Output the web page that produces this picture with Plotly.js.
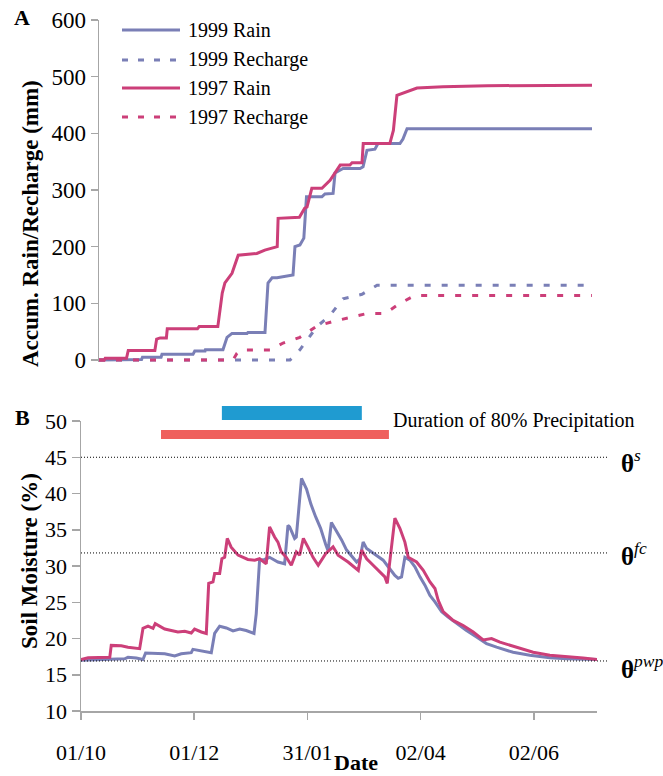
<!DOCTYPE html>
<html>
<head>
<meta charset="utf-8">
<script src="https://cdn.plot.ly/plotly-3.0.1.min.js"></script>
<style>html,body{margin:0;padding:0;background:#fff;}</style>
</head>
<body>
<div id="chart" style="width:663px;height:776px;"></div>
<script>
// ---------- Panel A: accumulated rain / recharge (x = days since 1 Oct) ----------
const rain1997Day = [0,3,3.5,15.5,16.5,31.5,32.5,34.5,38,38.5,55.5,56.5,67,69.5,71,75,78.5,89,93.5,100.5,101,113,116,117.3,120,125.7,130.3,134,136,141.5,142.7,148.3,149,164,166,168,171.4,175.4,179.3,194,218.8,278];
const rain1997Val = [0,0,3,3,17,17,37,39,39,55,55,59,59,118,136,153,185,188,194,200,250,252,268,270,303,303,317,335,344,344,348,348,382,382,405,467,471,475,480,482,484,485];
const rain1999Day = [0,16,16.5,24,24.5,35,35.5,53,54,59.8,60,69.9,72.2,75,83.5,84,93.6,95.3,97.6,100.4,109.4,110.5,113.3,115.5,117,125.7,127.4,132,133.1,137.6,147.2,148.9,151.1,155.6,157.3,169.7,171.4,173.7,278];
const rain1999Val = [0,0,1,1,5,5,10,10,16,16,18,18,40,47,47,48.5,48.5,136,145,145,150,200,203,215,288,288,293,294,330,338,338,341,370,372,382,382,390,408,408];
const recharge1999Day = [0,107.7,113.3,122.9,130.3,137.6,148.3,156.8,278];
const recharge1999Val = [0,0,18,59,79,108,116,132,132];
const recharge1997Day = [0,75.6,77.8,80,96.4,103.8,113.3,122.9,132,141.5,151.1,161.3,169.7,178.2,278];
const recharge1997Val = [0,0,12,17.6,17.6,30,40,60,68,75,82,82,100,114,114];
const legendLabels = ["1999 Rain","1999 Recharge","1997 Rain","1997 Recharge"];

// ---------- Panel B: soil moisture (x = days since 1 Oct) ----------
const sm1997Day = [0,3.8,15.5,16.3,21.7,25.3,31.6,33.4,36.1,38.8,40.0,45.1,52.2,55.9,59.4,61.2,64.8,67.5,68.8,71.1,72.0,74.7,75.9,77.4,78.8,80.9,84.6,89.9,93.6,96.2,99.8,101.6,104.3,106.1,107.9,110.6,113.3,116.0,117.8,119.8,122.3,125.0,127.8,131.8,135.8,138.5,143.9,146.7,149.4,151.2,153.9,157.4,161.0,163.7,165.0,166.8,169.1,171.8,174.5,176.3,179.0,180.8,184.4,188.0,190.7,192.4,195.1,200.5,205.9,211.3,216.7,221.2,225.7,234.7,243.6,252.6,261.6,270.5,278];
const sm1997Val = [17.1,17.35,17.4,19.05,19.0,18.8,18.6,21.4,21.7,21.4,22.05,21.3,20.9,21.0,20.75,21.3,20.9,20.7,27.6,27.8,28.95,28.95,31.0,31.2,33.8,32.6,31.5,30.9,30.8,31.0,30.3,35.4,34.0,33.3,31.95,31.2,30.1,31.95,31.5,33.8,32.6,31.2,30.1,31.7,32.65,31.5,30.55,29.9,29.4,32.2,31.0,30.1,29.2,28.5,27.6,31.2,36.6,35.2,33.3,31.2,30.8,30.55,29.4,27.8,26.9,25.3,23.7,22.5,21.8,20.9,19.8,20.0,19.5,18.8,18.1,17.7,17.45,17.3,17.1];
const sm1999Day = [0,9.2,23.5,25.3,29.8,33.4,34.8,45.1,50.5,54.0,59.4,60.3,63.9,70.2,72.0,74.7,78.3,81.9,85.5,89.0,93.2,94.4,96.2,98.9,101.6,106.1,109.7,111.5,112.4,115.1,116.0,118.8,121.5,123.9,126.4,129.1,131.8,133.1,134.9,137.3,140.4,143.1,146.7,148.5,150.3,152.0,153.9,156.6,159.3,162.8,165.5,169.1,170.9,172.7,174.5,177.2,179.9,182.6,185.3,188.0,190.7,194.3,197.8,202.4,207.7,213.1,218.5,223.9,232.8,241.8,252.6,261.6,278];
const sm1999Val = [17.0,17.1,17.2,17.4,17.3,17.1,18.0,17.9,17.6,17.9,18.05,18.5,18.3,18.05,20.7,21.7,21.45,21.05,21.3,21.1,20.7,23.4,30.8,30.9,31.2,30.55,30.3,35.6,35.4,33.8,34.0,42.1,40.6,38.5,36.8,35.2,33.0,32.1,36.0,35.0,33.6,32.2,31.2,30.55,31.0,33.3,32.4,31.95,31.5,30.8,29.9,28.7,28.3,28.5,31.2,30.8,29.9,28.5,27.35,25.95,25.05,23.7,22.95,22.05,21.1,20.2,19.3,18.8,18.1,17.7,17.35,17.2,17.1];
const dateTickDays = [0,61,122,183,244];
const dateTickLabels = ["01/10","01/12","31/01","02/04","02/06"];
const duration1999 = [75.9,151.3];   // 80% precipitation window (days)
const duration1997 = [43.1,165.9];
const refLevels = [45,31.8,16.9];
const refLabels = ["<b>θ</b><sup><i>s</i></sup>","<b>θ</b><sup><i>fc</i></sup>","<b>θ</b><sup><i>pwp</i></sup>"];

const BLUE = "#7a7fb6", RED = "#cc3f79", AX = "#a6a6a6";
const W = 663, H = 776;
const px = v => v / W, py = v => 1 - v / H;
const FONT = "'Liberation Serif', 'Times New Roman', serif";

const traces = [
  {x: rain1999Day, y: rain1999Val, xaxis:"x", yaxis:"y", mode:"lines", line:{color:BLUE,width:3}, name:legendLabels[0]},
  {x: recharge1999Day, y: recharge1999Val, xaxis:"x", yaxis:"y", mode:"lines", line:{color:BLUE,width:3,dash:"6px,11px"}, name:legendLabels[1]},
  {x: rain1997Day, y: rain1997Val, xaxis:"x", yaxis:"y", mode:"lines", line:{color:RED,width:3}, name:legendLabels[2]},
  {x: recharge1997Day, y: recharge1997Val, xaxis:"x", yaxis:"y", mode:"lines", line:{color:RED,width:3,dash:"6px,11px"}, name:legendLabels[3]},
  {x: sm1999Day, y: sm1999Val, xaxis:"x2", yaxis:"y2", mode:"lines", line:{color:BLUE,width:3}, name:"1999"},
  {x: sm1997Day, y: sm1997Val, xaxis:"x2", yaxis:"y2", mode:"lines", line:{color:RED,width:3}, name:"1997"}
];

const shapes = [];
const annotations = [];
// legend
const legRows = [30,60,88,117];
const legStyles = [{c:BLUE,d:"solid"},{c:BLUE,d:"6px,10px"},{c:RED,d:"solid"},{c:RED,d:"6px,10px"}];
legRows.forEach((r,i)=>{
  shapes.push({type:"line", xref:"paper", yref:"paper", x0:px(122), x1:px(180), y0:py(r), y1:py(r),
               line:{color:legStyles[i].c, width:3, dash:legStyles[i].d}});
  annotations.push({xref:"paper", yref:"paper", x:px(186), y:py(r), xanchor:"left", yanchor:"middle",
               text:legendLabels[i], showarrow:false, font:{family:FONT,size:20,color:"#000"}});
});
// reference lines + labels
const refLabelY = [461,554,667];
refLevels.forEach((lv,i)=>{
  shapes.push({type:"line", xref:"paper", yref:"y2", x0:px(81), x1:px(608), y0:lv, y1:lv,
               line:{color:"#000", width:1, dash:"1px,2px"}});
  annotations.push({xref:"paper", yref:"paper", x:px(619), y:py(refLabelY[i]), xanchor:"left", yanchor:"middle",
               text:refLabels[i], showarrow:false, font:{family:FONT,size:25,color:"#000"}});
});
// duration bars
shapes.push({type:"rect", xref:"x2", yref:"paper", x0:duration1999[0], x1:duration1999[1], y0:py(420), y1:py(406),
             fillcolor:"#1f9bd1", line:{width:0}});
shapes.push({type:"rect", xref:"x2", yref:"paper", x0:duration1997[0], x1:duration1997[1], y0:py(439), y1:py(430),
             fillcolor:"#ef605d", line:{width:0}});
annotations.push({xref:"paper", yref:"paper", x:px(391), y:py(420), xanchor:"left", yanchor:"middle",
             text:"Duration of 80% Precipitation", showarrow:false, font:{family:FONT,size:20,color:"#000"}});
// panel letters and titles
annotations.push({xref:"paper", yref:"paper", x:px(22), y:py(17), xanchor:"center", yanchor:"middle",
             text:"<b>A</b>", showarrow:false, font:{family:FONT,size:22,color:"#000"}});
annotations.push({xref:"paper", yref:"paper", x:px(22), y:py(417), xanchor:"center", yanchor:"middle",
             text:"<b>B</b>", showarrow:false, font:{family:FONT,size:22,color:"#000"}});
annotations.push({xref:"paper", yref:"paper", x:px(31), y:py(224), xanchor:"center", yanchor:"middle", textangle:-90,
             text:"<b>Accum. Rain/Recharge (mm)</b>", showarrow:false, font:{family:FONT,size:23,color:"#000"}});
annotations.push({xref:"paper", yref:"paper", x:px(29), y:py(561), xanchor:"center", yanchor:"middle", textangle:-90,
             text:"<b>Soil Moisture (%)</b>", showarrow:false, font:{family:FONT,size:23,color:"#000"}});
annotations.push({xref:"paper", yref:"paper", x:px(356), y:py(762), xanchor:"center", yanchor:"middle",
             text:"<b>Date</b>", showarrow:false, font:{family:FONT,size:22,color:"#000"}});

const layout = {
  width: W, height: H,
  margin:{l:0,r:0,t:0,b:0,pad:0},
  paper_bgcolor:"#fff", plot_bgcolor:"rgba(0,0,0,0)",
  showlegend:false,
  font:{family:FONT, color:"#000"},
  xaxis:{domain:[px(99),px(592)], range:[0,278], visible:false, anchor:"y", fixedrange:true},
  yaxis:{domain:[py(362),py(20)], range:[-3.5,600], tickvals:[0,100,200,300,400,500,600], anchor:"x",
         ticks:"outside", ticklen:7, tickwidth:1.5, tickcolor:AX, showline:true, linecolor:AX, linewidth:1.5,
         showgrid:false, zeroline:false, tickfont:{family:FONT,size:23,color:"#000"}},
  xaxis2:{domain:[px(81),px(597)], range:[0,278], anchor:"y2", tickvals:dateTickDays, ticktext:dateTickLabels,
         ticks:"outside", ticklen:7, tickwidth:1.5, tickcolor:AX, showline:true, linecolor:AX, linewidth:1.5,
         showgrid:false, zeroline:false, ticklabelstandoff:14, tickfont:{family:FONT,size:22,color:"#000"}},
  yaxis2:{domain:[py(711),py(421)], range:[10,50], dtick:5, anchor:"x2",
         ticks:"outside", ticklen:8, tickwidth:1.5, tickcolor:AX, showline:true, linecolor:AX, linewidth:1.5,
         showgrid:false, zeroline:false, tickfont:{family:FONT,size:22,color:"#000"}},
  shapes: shapes,
  annotations: annotations
};

Plotly.newPlot("chart", traces, layout, {staticPlot:true, displayModeBar:false});
</script>
</body>
</html>
